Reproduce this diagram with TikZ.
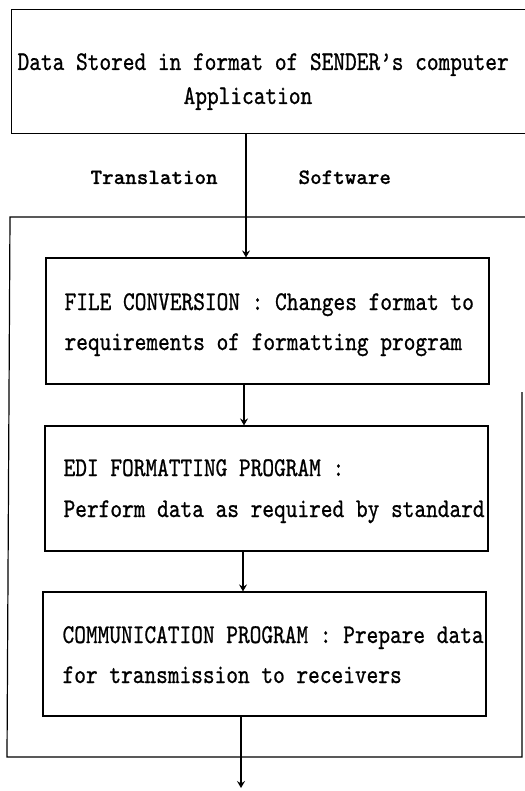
\documentclass[tikz,border=0pt]{standalone}
\usepackage{fontspec}
\usetikzlibrary{arrows.meta}
\newfontfamily\reffont{lmmono10-regular}[Extension=.otf, FakeStretch=0.825, FakeBold=0.8]
\newfontfamily\reflabel{lmmonolt10-bold}[Extension=.otf, FakeBold=0.5]
\begin{document}
\begin{tikzpicture}[x=1pt,y=-1pt,
  line width=1.2pt,
  boxshape/.style={draw, rectangle, inner sep=0pt, minimum width=443pt},
  txt/.style={anchor=base west, inner sep=0pt, font=\reffont\fontsize{27}{40}\selectfont},
  lbl/.style={anchor=base west, inner sep=0pt, font=\reflabel\fontsize{22}{26}\selectfont},
  arr/.style={-{Stealth[length=7pt,width=8pt,inset=2.5pt]}}]
\useasboundingbox (0,0) rectangle (524,791);
% source box (right side runs off the page)
\node[draw=none, rectangle, inner sep=0pt, minimum width=522pt, minimum height=123pt] (src) at (273,71.5) {};
\draw (src.north east) -- (src.north west) -- (src.south west) -- (src.south east);
\node[txt] (s1) at (17,70) {Data Stored in format of SENDER’s computer};
\node[txt] (s2) at (183,104) {Application};
% labels
\node[lbl] (tr) at (90,184) {Translation};
\node[lbl] (sw) at (298,184) {Software};
% outer frame
\coordinate (fTR) at (534,217);
\coordinate (fTL) at (10,217);
\coordinate (fBL) at (7,757);
\coordinate (fBR) at (522,757);
\coordinate (fR) at (522,392);
\draw (fTR) -- (fTL) -- (fBL) -- (fBR) -- (fR);
% inner boxes
\node[boxshape, minimum height=126pt] (b1) at (267.5,321) {};
\node[txt] (b1a) at (64,310) {FILE CONVERSION : Changes format to};
\node[txt] (b1b) at (64,350) {requirements of formatting program};
\node[boxshape, minimum height=125pt] (b2) at (266.5,488.5) {};
\node[txt] (b2a) at (63,476) {EDI FORMATTING PROGRAM :};
\node[txt] (b2b) at (63,517) {Perform data as required by standard};
\node[boxshape, minimum height=124pt] (b3) at (264.5,654) {};
\node[txt] (b3a) at (62,643) {COMMUNICATION PROGRAM : Prepare data};
\node[txt] (b3b) at (62,683) {for transmission to receivers};
% connectors
\coordinate (x1) at (246,0);
\coordinate (x2) at (244,0);
\coordinate (x3) at (243,0);
\coordinate (out) at (241,788);
\draw[arr] (src.south -| x1) -- (b1.north -| x1);
\draw[arr] (b1.south -| x2) -- (b2.north -| x2);
\draw[arr] (b2.south -| x3) -- (b3.north -| x3);
\draw[arr] (b3.south -| out) -- (out);
\end{tikzpicture}
\end{document}
